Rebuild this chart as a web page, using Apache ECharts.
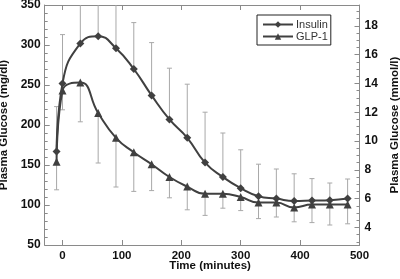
<!DOCTYPE html>
<html>
<head>
<meta charset="utf-8">
<script src="https://cdn.jsdelivr.net/npm/echarts@6/dist/echarts.min.js"></script>
<style>html,body{margin:0;padding:0;background:#fff}#c{width:400px;height:279px}</style>
</head>
<body>
<div id="c"></div>
<script>
const times = [-10, 0, 30, 60, 90, 120, 150, 180, 210, 240, 270, 300, 330, 360, 390, 420, 450, 480];
const insulin = [167, 252, 302, 311, 296, 270, 237, 207, 184, 153, 135, 121, 111, 108, 105, 105.5, 106, 108];
const glp1 = [154, 243, 253, 215, 184, 166, 151, 135, 123, 114, 114, 110, 103, 103, 97, 100.5, 100.5, 100.5];
const insulinUpper = [223, 313, 375, 385, 365, 328, 303, 271, 251, 216, 190, 169, 151, 145, 139, 133, 127.5, 132.5];
const glp1Lower = [119, 219, 204, 152.5, 122.5, 117, 118, 109, 94, 87, 96, 93, 83, 85, 79, 78, 75, 76.5];
const xTicks = [0, 100, 200, 300, 400, 500];
const mmolTicks = [4, 6, 8, 10, 12, 14, 16, 18];
const mmolMinor = [3, 3.5, 4, 4.5, 5, 5.5, 6, 6.5, 7, 7.5, 8, 8.5, 9, 9.5, 10, 10.5, 11, 11.5, 12, 12.5, 13, 13.5, 14, 14.5, 15, 15.5, 16, 16.5, 17, 17.5, 18, 18.5, 19];

const FONT = 'Liberation Sans, Arial, Helvetica, sans-serif';
const Y_MIN = 50, Y_MAX = 350;
const LINE_C = '#404040';
const AXIS_C = '#8a8a8a';

const chart = echarts.init(document.getElementById('c'), null, {renderer: 'canvas'});

function errData(base, ends) {
  return times.map((t, i) => [t, base[i], ends[i]]);
}

function renderErr(params, api) {
  const t = api.value(0), b = api.value(1), e = api.value(2);
  const clipped = e > Y_MAX;
  const ev = Math.min(e, Y_MAX);
  const p0 = api.coord([t, b]);
  const p1 = api.coord([t, ev]);
  const style = {stroke: '#a8a8a8', lineWidth: 1, fill: null};
  const children = [{type: 'line', shape: {x1: p0[0], y1: p0[1], x2: p1[0], y2: p1[1]}, style: style}];
  if (!clipped) {
    children.push({type: 'line', shape: {x1: p1[0] - 2.5, y1: p1[1], x2: p1[0] + 2.5, y2: p1[1]}, style: style});
  }
  return {type: 'group', children: children};
}

const labelStyle = {color: '#111', fontFamily: FONT, fontWeight: 'bold', fontSize: 12};
const xLabelStyle = {color: '#111', fontFamily: FONT, fontWeight: 'bold', fontSize: 11.5};
const nameStyle = {color: '#111', fontFamily: FONT, fontWeight: 'bold', fontSize: 11.5};
const GRID = {left: 44.7, right: 40.5, top: 5, bottom: 34, containLabel: false, outerBoundsMode: 'none'};

const option = {
  animation: false,
  backgroundColor: '#fff',
  grid: [Object.assign({}, GRID), Object.assign({}, GRID)],
  legend: {
    left: 257, top: 15, width: 75, height: 30,
    orient: 'vertical',
    itemGap: 1,
    itemWidth: 30, itemHeight: 8,
    padding: [4, 3, 3, 5],
    borderColor: '#222', borderWidth: 1,
    backgroundColor: '#fff',
    textStyle: {fontFamily: FONT, fontSize: 11, color: '#333', padding: [0, 0, 0, -2]},
    data: ['Insulin', 'GLP-1']
  },
  xAxis: [
    {
      type: 'value', gridIndex: 0, min: -30, max: 500, position: 'bottom',
      name: 'Time (minutes)', nameLocation: 'middle', nameGap: 15, nameMoveOverlap: false,
      nameTextStyle: Object.assign({}, nameStyle, {padding: [0, 0, 0, 16]}),
      axisLine: {show: true, onZero: false, lineStyle: {color: AXIS_C, width: 1}},
      axisTick: {show: true, inside: true, length: 5, customValues: xTicks, lineStyle: {color: AXIS_C}},
      axisLabel: Object.assign({customValues: xTicks, margin: 5}, xLabelStyle),
      splitLine: {show: false}
    },
    {
      type: 'value', gridIndex: 0, min: -30, max: 500, position: 'top',
      axisLine: {show: true, onZero: false, lineStyle: {color: AXIS_C, width: 1}},
      axisTick: {show: true, inside: true, length: 5, customValues: xTicks, lineStyle: {color: AXIS_C}},
      axisLabel: {show: false},
      splitLine: {show: false}
    },
    {
      type: 'value', gridIndex: 1, min: -30, max: 500, show: false
    }
  ],
  yAxis: [
    {
      type: 'value', gridIndex: 0, min: Y_MIN, max: Y_MAX, interval: 50, position: 'left',
      name: 'Plasma Glucose (mg/dl)', nameLocation: 'middle', nameGap: 32, nameRotate: 90,
      nameTextStyle: nameStyle,
      axisLine: {show: true, onZero: false, lineStyle: {color: AXIS_C, width: 1}},
      axisTick: {show: true, inside: true, length: 5, lineStyle: {color: AXIS_C}},
      minorTick: {show: true, splitNumber: 5, length: 3, lineStyle: {color: AXIS_C}},
      axisLabel: Object.assign({margin: 4}, labelStyle),
      splitLine: {show: false}
    },
    {
      type: 'value', gridIndex: 0, min: Y_MIN / 18, max: Y_MAX / 18, position: 'right',
      name: 'Plasma Glucose (mmol/l)', nameLocation: 'middle', nameGap: 28, nameRotate: 90,
      nameTextStyle: nameStyle,
      axisLine: {show: true, onZero: false, lineStyle: {color: AXIS_C, width: 1}},
      axisTick: {show: true, inside: true, length: 5, customValues: mmolTicks, lineStyle: {color: AXIS_C}},
      axisLabel: Object.assign({customValues: mmolTicks, margin: 5}, labelStyle),
      splitLine: {show: false}
    },
    {
      type: 'value', gridIndex: 1, min: Y_MIN / 18, max: Y_MAX / 18, position: 'right',
      axisLine: {show: false, onZero: false},
      axisTick: {show: true, inside: true, length: 3, customValues: mmolMinor, lineStyle: {color: AXIS_C}},
      axisLabel: {show: false},
      splitLine: {show: false}
    }
  ],
  series: [
    {
      type: 'custom', name: 'errIns', xAxisIndex: 0, yAxisIndex: 0,
      data: errData(insulin, insulinUpper), renderItem: renderErr, z: 1, silent: true,
      encode: {x: 0, y: [1, 2]}
    },
    {
      type: 'custom', name: 'errGlp', xAxisIndex: 0, yAxisIndex: 0,
      data: errData(glp1, glp1Lower), renderItem: renderErr, z: 1, silent: true,
      encode: {x: 0, y: [1, 2]}
    },
    {
      type: 'line', name: 'Insulin', xAxisIndex: 0, yAxisIndex: 0, z: 3,
      data: times.map((t, i) => [t, insulin[i]]),
      smooth: 0.5,
      symbol: 'diamond', symbolSize: 8,
      lineStyle: {color: LINE_C, width: 2},
      itemStyle: {color: LINE_C}
    },
    {
      type: 'line', name: 'GLP-1', xAxisIndex: 0, yAxisIndex: 0, z: 3,
      data: times.map((t, i) => [t, glp1[i]]),
      smooth: 0.5,
      symbol: 'triangle', symbolSize: 8,
      lineStyle: {color: LINE_C, width: 2},
      itemStyle: {color: LINE_C}
    }
  ]
};
chart.setOption(option);
</script>
</body>
</html>
